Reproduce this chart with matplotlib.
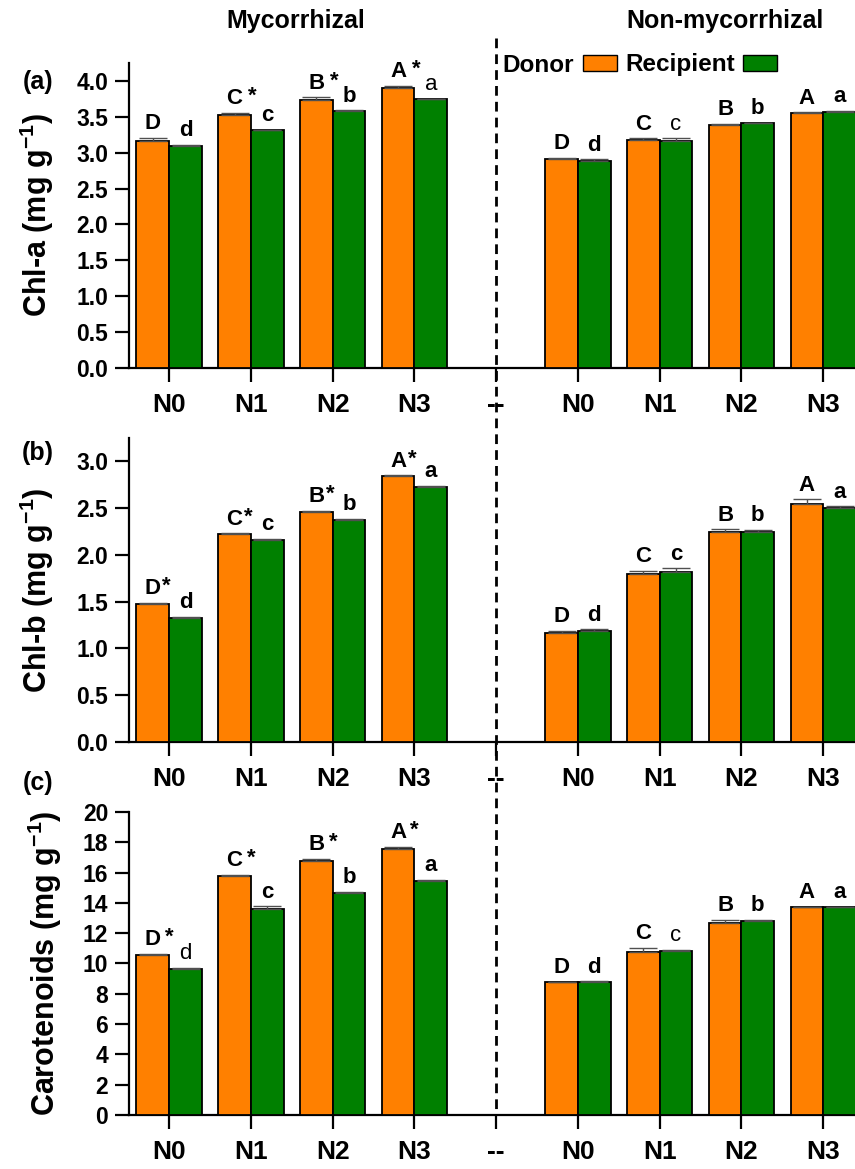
import matplotlib
matplotlib.use("Agg")
import matplotlib.pyplot as plt
from matplotlib.lines import Line2D
from matplotlib.patches import Patch
from matplotlib.transforms import blended_transform_factory
import numpy as np

# ---------------------------------------------------------------------------
# Data
# ---------------------------------------------------------------------------
tick_labels = ["N0", "N1", "N2", "N3", "--", "N0", "N1", "N2", "N3"]
myc_x = [0, 1, 2, 3]
non_x = [5, 6, 7, 8]

# (a) Chl-a
chla_myc_donor = [3.17, 3.53, 3.74, 3.90]
chla_myc_recip = [3.10, 3.31, 3.58, 3.745]
chla_non_donor = [2.91, 3.18, 3.39, 3.555]
chla_non_recip = [2.88, 3.17, 3.41, 3.57]
chla_err_myc_donor = [0.04, 0.03, 0.03, 0.03]
chla_err_myc_recip = [0.01, 0.01, 0.01, 0.01]
chla_err_non_donor = [0.02, 0.02, 0.01, 0.01]
chla_err_non_recip = [0.03, 0.03, 0.01, 0.01]

# (b) Chl-b
chlb_myc_donor = [1.48, 2.22, 2.46, 2.84]
chlb_myc_recip = [1.33, 2.16, 2.375, 2.73]
chlb_non_donor = [1.17, 1.795, 2.245, 2.545]
chlb_non_recip = [1.19, 1.82, 2.24, 2.50]
chlb_err_myc_donor = [0.01, 0.01, 0.01, 0.01]
chlb_err_myc_recip = [0.01, 0.01, 0.01, 0.01]
chlb_err_non_donor = [0.02, 0.035, 0.03, 0.05]
chlb_err_non_recip = [0.015, 0.035, 0.03, 0.02]

# (c) Carotenoids
car_myc_donor = [10.57, 15.76, 16.79, 17.58]
car_myc_recip = [9.62, 13.60, 14.62, 15.45]
car_non_donor = [8.75, 10.77, 12.66, 13.71]
car_non_recip = [8.79, 10.81, 12.79, 13.71]
car_err_myc_donor = [0.06, 0.08, 0.10, 0.12]
car_err_myc_recip = [0.08, 0.18, 0.12, 0.08]
car_err_non_donor = [0.04, 0.26, 0.22, 0.04]
car_err_non_recip = [0.04, 0.10, 0.08, 0.04]

# letters: (text, bold, star)
chla_let_myc_donor = [("D", True, False), ("C", True, True), ("B", True, True), ("A", True, True)]
chla_let_myc_recip = [("d", True, False), ("c", True, False), ("b", True, False), ("a", False, False)]
chla_let_non_donor = [("D", True, False), ("C", True, False), ("B", True, False), ("A", True, False)]
chla_let_non_recip = [("d", True, False), ("c", False, False), ("b", True, False), ("a", True, False)]

chlb_let_myc_donor = [("D", True, True), ("C", True, True), ("B", True, True), ("A", True, True)]
chlb_let_myc_recip = [("d", True, False), ("c", True, False), ("b", True, False), ("a", True, False)]
chlb_let_non_donor = [("D", True, False), ("C", True, False), ("B", True, False), ("A", True, False)]
chlb_let_non_recip = [("d", True, False), ("c", True, False), ("b", True, False), ("a", True, False)]

car_let_myc_donor = [("D", True, True), ("C", True, True), ("B", True, True), ("A", True, True)]
car_let_myc_recip = [("d", False, False), ("c", True, False), ("b", True, False), ("a", True, False)]
car_let_non_donor = [("D", True, False), ("C", True, False), ("B", True, False), ("A", True, False)]
car_let_non_recip = [("d", True, False), ("c", False, False), ("b", True, False), ("a", True, False)]

# ---------------------------------------------------------------------------
# Style
# ---------------------------------------------------------------------------
plt.rcParams.update({
    "font.family": ["Liberation Sans", "DejaVu Sans"],
    "font.weight": "bold",
    "mathtext.fontset": "custom",
    "mathtext.rm": "Liberation Sans:bold",
    "mathtext.bf": "Liberation Sans:bold",
    "mathtext.default": "rm",
    "axes.linewidth": 1.6,
})

ORANGE = "#FF8000"
GREEN = "#008000"
W = 0.4

fig = plt.figure(figsize=(8.55, 11.69), dpi=100)

panels = [
    dict(rect=[0.151, 0.6852, 0.852, 0.2609], ylim=(0, 4.25), yticks=np.arange(0, 4.01, 0.5),
         fmt="{:.1f}", ylabel="Chl-a (mg g$^{-1}$)", tag="(a)", tag_y=82, lab_x=-0.100, star_gap=4,
         md=chla_myc_donor, mr=chla_myc_recip, nd=chla_non_donor, nr=chla_non_recip,
         emd=chla_err_myc_donor, emr=chla_err_myc_recip, end=chla_err_non_donor, enr=chla_err_non_recip,
         lmd=chla_let_myc_donor, lmr=chla_let_myc_recip, lnd=chla_let_non_donor, lnr=chla_let_non_recip),
    dict(rect=[0.151, 0.3653, 0.852, 0.2600], ylim=(0, 3.25), yticks=np.arange(0, 3.01, 0.5),
         fmt="{:.1f}", ylabel="Chl-b (mg g$^{-1}$)", tag="(b)", tag_y=453, lab_x=-0.100, star_gap=1,
         md=chlb_myc_donor, mr=chlb_myc_recip, nd=chlb_non_donor, nr=chlb_non_recip,
         emd=chlb_err_myc_donor, emr=chlb_err_myc_recip, end=chlb_err_non_donor, enr=chlb_err_non_recip,
         lmd=chlb_let_myc_donor, lmr=chlb_let_myc_recip, lnd=chlb_let_non_donor, lnr=chlb_let_non_recip),
    dict(rect=[0.151, 0.0462, 0.852, 0.2592], ylim=(0, 20), yticks=np.arange(0, 21, 2),
         fmt="{:.0f}", ylabel="Carotenoids (mg g$^{-1}$)", tag="(c)", tag_y=783, lab_x=-0.089, star_gap=3,
         md=car_myc_donor, mr=car_myc_recip, nd=car_non_donor, nr=car_non_recip,
         emd=car_err_myc_donor, emr=car_err_myc_recip, end=car_err_non_donor, enr=car_err_non_recip,
         lmd=car_let_myc_donor, lmr=car_let_myc_recip, lnd=car_let_non_donor, lnr=car_let_non_recip),
]

bar_kw = dict(width=W, edgecolor="black", linewidth=1.3, zorder=3)
err_kw = dict(ecolor="#505050", elinewidth=1.0, capsize=10, capthick=1.0)


def put_letters(ax, xs, tops, errs, letters, ylim, star_gap):
    pad = (ylim[1] - ylim[0]) * 0.012
    for x, t, e, (s, bold, star) in zip(xs, tops, errs, letters):
        txt = ax.text(x, t + e + pad, s, ha="center", va="bottom", fontsize=16,
                      fontweight="bold" if bold else "normal", zorder=5)
        if star:
            ax.annotate("*", xy=(1, 0.62), xycoords=txt, xytext=(star_gap, 0),
                        textcoords="offset points", ha="left", va="center",
                        fontsize=16, fontweight="bold", zorder=5)


axes = []
for p in panels:
    ax = fig.add_axes(p["rect"])
    axes.append(ax)
    xs = np.array(myc_x + non_x, dtype=float)
    donor = p["md"] + p["nd"]
    recip = p["mr"] + p["nr"]
    edon = p["emd"] + p["end"]
    erec = p["emr"] + p["enr"]
    ax.bar(xs - W / 2, donor, color=ORANGE, **bar_kw)
    ax.bar(xs + W / 2, recip, color=GREEN, **bar_kw)
    ax.errorbar(xs - W / 2, donor, yerr=[np.zeros(len(edon)), edon], fmt="none", zorder=4, **err_kw)
    ax.errorbar(xs + W / 2, recip, yerr=[np.zeros(len(erec)), erec], fmt="none", zorder=4, **err_kw)

    put_letters(ax, xs - W / 2, donor, edon, p["lmd"] + p["lnd"], p["ylim"], p["star_gap"])
    put_letters(ax, xs + W / 2, recip, erec, p["lmr"] + p["lnr"], p["ylim"], p["star_gap"])

    ax.set_xlim(-0.49, 8.42)
    ax.set_ylim(*p["ylim"])
    ax.set_xticks(range(len(tick_labels)))
    ax.set_xticklabels(tick_labels, fontsize=19, fontweight="bold")
    ax.set_yticks(p["yticks"])
    ax.set_yticklabels([p["fmt"].format(v) for v in p["yticks"]], fontsize=16.5, fontweight="bold")
    ax.tick_params(axis="both", direction="out", length=10, width=1.6)
    ax.tick_params(axis="x", pad=8)
    ax.tick_params(axis="y", pad=5)
    for side in ("top", "right"):
        ax.spines[side].set_visible(False)
    ax.set_ylabel(p["ylabel"], fontsize=22, fontweight="bold")
    ax.yaxis.set_label_coords(p["lab_x"], 0.5)

    fig.text(38 / 855, 1 - p["tag_y"] / 1169, p["tag"], ha="center", va="center",
             fontsize=18, fontweight="bold")

# dashed separator across all panels at the "--" position
trans = blended_transform_factory(axes[0].transData, fig.transFigure)
fig.add_artist(Line2D([4, 4], [1 - 38 / 1169, 1 - 1110 / 1169], transform=trans,
                      color="black", linewidth=2.0, linestyle=(0, (3.5, 2.2))))

# column titles
fig.text(296 / 855, 1 - 21 / 1169, "Mycorrhizal", ha="center", va="center",
         fontsize=18, fontweight="bold")
fig.text(725 / 855, 1 - 21 / 1169, "Non-mycorrhizal", ha="center", va="center",
         fontsize=18, fontweight="bold")

handles = [Patch(facecolor=ORANGE, edgecolor="black", linewidth=1.0),
           Patch(facecolor=GREEN, edgecolor="black", linewidth=1.0)]
fig.legend(handles, ["Donor", "Recipient"], loc="center", ncol=2,
           bbox_to_anchor=(640 / 855, 1 - 65 / 1169), markerfirst=False,
           frameon=False, prop=dict(weight="bold", size=17.5),
           handlelength=1.4, handleheight=0.6, handletextpad=0.35, columnspacing=0.35)

fig.savefig("out.png", dpi=100)
